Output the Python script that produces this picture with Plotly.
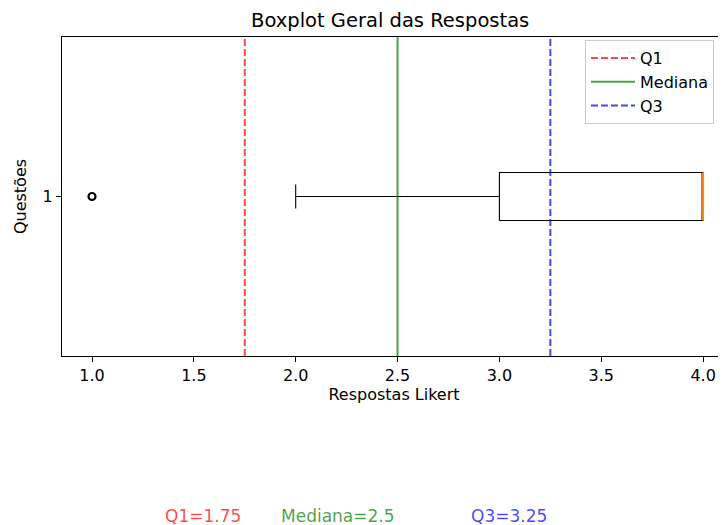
import plotly.graph_objects as go

# ---- data ----
question = [1]
box_q1 = [3.0]
box_median = [4.0]
box_q3 = [4.0]
box_lower = [2.0]
box_upper = [4.0]
outliers = [1.0]

ref_names = ["Q1", "Mediana", "Q3"]
ref_values = [1.75, 2.5, 3.25]

x_ticks = [1.0, 1.5, 2.0, 2.5, 3.0, 3.5, 4.0]
x_ticklabels = ["1.0", "1.5", "2.0", "2.5", "3.0", "3.5", "4.0"]

# ---- styling ----
OFF = 8                      # default body margin of the page
W, H = 726 - OFF, 525 - OFF
PL, PT, PB = 62, 37, 356     # plot box in page pixels
ML, MT = PL - OFF, PT - OFF
MB = H - (PB - OFF)
MR = 0
PW = W - ML - MR
PH = H - MT - MB
FONT = "DejaVu Sans"
ref_colors = ["rgba(255,0,0,0.72)", "rgba(0,128,0,0.72)", "rgba(0,0,255,0.72)"]
ref_dash = ["7px,3px", "solid", "7px,3px"]
BOX_W = 0.15
PX_PER_UNIT = 203.7


def px_x(p):
    return (p - PL) / PW


def px_y(p):
    return (PB - p) / PH


fig = go.Figure()

# vertical reference lines (also legend entries)
for name, val, col, dash in zip(ref_names, ref_values, ref_colors, ref_dash):
    fig.add_trace(go.Scatter(
        x=[val, val], y=[0.5, 1.5], mode="lines", name=name,
        line=dict(color=col, width=2, dash=dash), hoverinfo="skip"))

# box
fig.add_trace(go.Box(
    y=question, q1=box_q1, median=box_median, q3=box_q3,
    lowerfence=box_lower, upperfence=box_upper,
    orientation="h", width=BOX_W, whiskerwidth=0.5,
    fillcolor="rgba(0,0,0,0)", line=dict(color="#000000", width=1.1),
    showlegend=False, boxpoints=False))

# median line (orange)
for q, m in zip(question, box_median):
    fig.add_trace(go.Scatter(
        x=[m, m], y=[q - BOX_W / 2, q + BOX_W / 2], mode="lines",
        line=dict(color="#ff8c1a", width=2), showlegend=False, hoverinfo="skip"))

# outliers
fig.add_trace(go.Scatter(
    x=outliers, y=question * len(outliers), mode="markers",
    marker=dict(symbol="circle-open", size=7, color="#000000",
                line=dict(width=2.2, color="#000000")),
    showlegend=False))

x_lo = 1.0 - 30 / PX_PER_UNIT
x_hi = x_lo + PW / PX_PER_UNIT

fig.update_xaxes(
    range=[x_lo, x_hi], tickvals=x_ticks, ticktext=x_ticklabels,
    showline=True, linecolor="#000000", linewidth=1.1, mirror=True,
    ticks="outside", ticklen=5, tickcolor="#000000", showgrid=False, zeroline=False,
    tickfont=dict(family=FONT, size=16, color="#000000"),
    title=dict(text="Respostas Likert", font=dict(family=FONT, size=16, color="#000000"), standoff=4))
fig.update_yaxes(
    range=[0.5, 1.5], tickvals=question, ticktext=[str(q) for q in question],
    showline=True, linecolor="#000000", linewidth=1.1, mirror=False,
    ticks="outside", ticklen=5, tickcolor="#000000", showgrid=False, zeroline=False,
    tickfont=dict(family=FONT, size=16, color="#000000"),
    title=dict(text="Questões", font=dict(family=FONT, size=16, color="#000000"), standoff=11))

# title
fig.add_annotation(text="Boxplot Geral das Respostas", xref="paper", yref="paper",
                   x=px_x(390), y=px_y(21), xanchor="center", yanchor="middle",
                   showarrow=False, font=dict(family=FONT, size=19.5, color="#000000"))

# bottom stat texts
text_px = [203, 338, 509]
for name, val, col, px in zip(ref_names, ref_values, ref_colors, text_px):
    fig.add_annotation(text=f"{name}={val:g}", xref="paper", yref="paper",
                       x=px_x(px), y=px_y(516), xanchor="center", yanchor="middle",
                       showarrow=False, font=dict(family=FONT, size=17, color=col))

fig.update_layout(
    width=W, height=H, margin=dict(l=ML, r=MR, t=MT, b=MB, pad=0),
    plot_bgcolor="#ffffff", paper_bgcolor="#ffffff",
    font=dict(family=FONT, size=16, color="#000000"),
    legend=dict(x=px_x(585), y=px_y(40), xanchor="left", yanchor="top",
                bordercolor="#cccccc", borderwidth=1, bgcolor="#ffffff",
                itemwidth=44, tracegroupgap=0,
                font=dict(family=FONT, size=16, color="#000000")),
    showlegend=True,
)

fig.write_html("out.html")
